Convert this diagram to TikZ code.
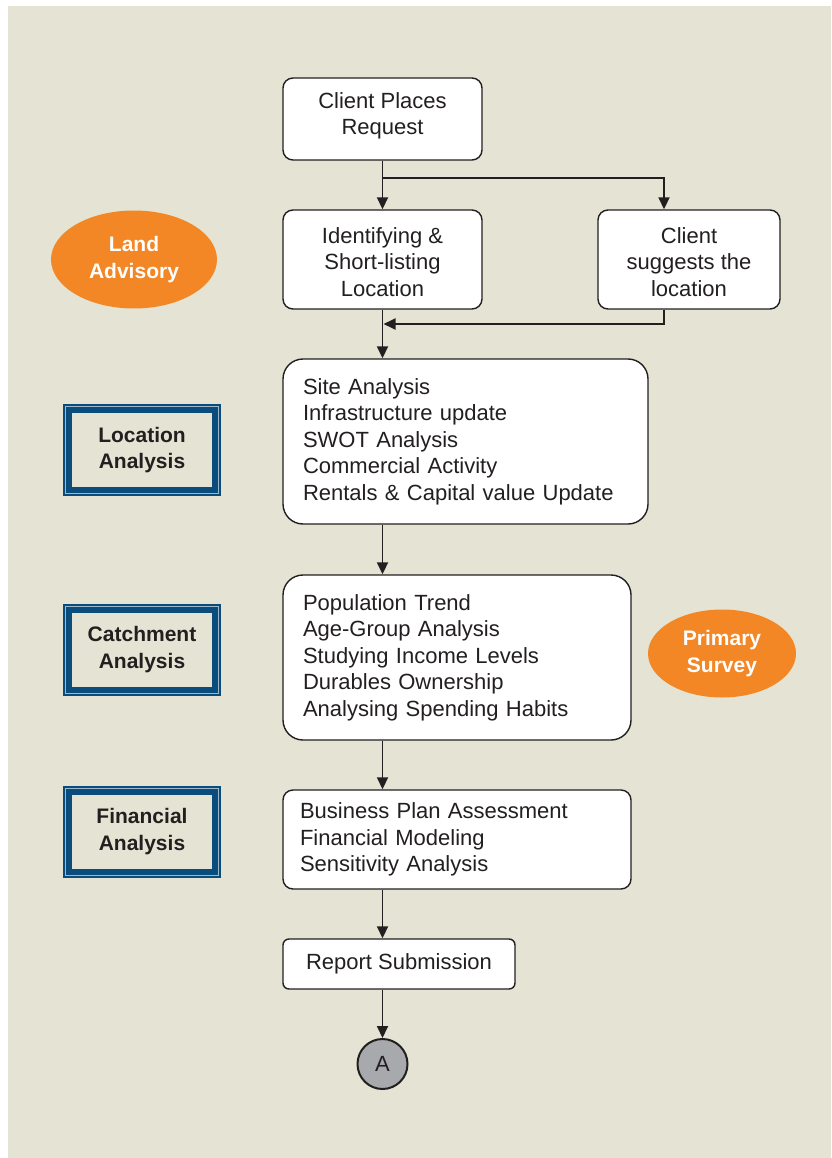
\documentclass[tikz,border=0pt]{standalone}
\usepackage{fontspec}
\setmainfont{Liberation Sans}
\usetikzlibrary{arrows.meta,shapes.geometric}
\definecolor{bg}{HTML}{E5E3D3}
\definecolor{ink}{HTML}{231F20}
\definecolor{orng}{HTML}{F38725}
\definecolor{navy}{HTML}{0A4D7C}
\definecolor{pale}{HTML}{9DB8CB}
\definecolor{circ}{HTML}{A7A9AC}
\begin{document}
\begin{tikzpicture}[x=1pt,y=-1pt,
 txt/.style={font=\fontsize{22}{26.5}\selectfont, text=ink},
 box/.style={draw=ink, line width=1.4pt, fill=white, rounded corners=10pt, txt, inner sep=0pt},
 boxtext/.style={txt, align=center, inner sep=0pt},
 arr/.style={draw=ink, line width=1.8pt, -{Triangle[length=12pt,width=11pt]}},
 ln/.style={draw=ink, line width=1.8pt},
 oval/.style={ellipse, fill=orng, inner sep=0pt, text=white, align=center, font=\bfseries\fontsize{21}{27}\selectfont},
 frame/.style={draw=navy, line width=9pt, fill=bg, minimum width=149pt, minimum height=83pt, inner sep=0pt, outer sep=0pt, align=center, text=ink, font=\bfseries\fontsize{21}{26.5}\selectfont},
 paleline/.style={draw=pale, line width=1pt},
]
\useasboundingbox (0,0) rectangle (831,1158);
\fill[bg] (8,6) rectangle (831,1158);

% main flow boxes
\node[box, minimum width=199pt, minimum height=82pt] (req) at (382.5,119) {};
\node[boxtext] (reqt) at (382.5,116) {Client Places\\Request};
\node[box, minimum width=199pt, minimum height=99pt] (ident) at (382.5,259.5) {};
\node[boxtext] (identt) at (382.5,262) {Identifying \&\\Short-listing\\Location};
\node[box, minimum width=182pt, minimum height=99pt] (sugg) at (689,259.5) {};
\node[boxtext] (suggt) at (689,262) {Client\\suggests the\\location};
\node[box, rounded corners=20pt, minimum width=365pt, minimum height=165pt, text width=325pt, inner xsep=20pt, align=left] (site) at (465.5,441.5)
 {Site Analysis\\Infrastructure update\\SWOT Analysis\\Commercial Activity\\Rentals \& Capital value Update};
\node[box, rounded corners=20pt, minimum width=348pt, minimum height=165pt, text width=308pt, inner xsep=20pt, align=left] (pop) at (457,657.5)
 {Population Trend\\Age-Group Analysis\\Studying Income Levels\\Durables Ownership\\Analysing Spending Habits};
\node[box, minimum width=348pt, minimum height=99pt, text width=314pt, inner xsep=17pt, align=left] (biz) at (457,839.5)
 {Business Plan Assessment\\Financial Modeling\\Sensitivity Analysis};
\node[box, rounded corners=6pt, minimum width=232pt, minimum height=50pt, align=center] (rep) at (399,964) {Report Submission};
\node[circle, draw=ink, line width=2pt, fill=circ, minimum size=50pt, inner sep=0pt, txt] (A) at (382.5,1064) {A};

% side labels
\node[oval, minimum width=166pt, minimum height=98pt] (land) at (134,259.5) {Land\\Advisory};
\node[oval, minimum width=148pt, minimum height=88pt] (prim) at (722,653.5) {Primary\\Survey};
\node[frame] (loc) at (142,450) {Location\\Analysis};
\node[frame] (cat) at (142,649.5) {Catchment\\Analysis};
\node[frame] (fin) at (142,831.5) {Financial\\Analysis};
\foreach \n in {loc,cat,fin}
  \draw[paleline] ([shift={(-2pt,2pt)}]\n.north west) rectangle ([shift={(2pt,-2pt)}]\n.south east);

% connectors
\coordinate (j) at (382.5,178);
\coordinate (k) at (664,178);
\coordinate (m) at (664,324);
\coordinate (n) at (383.5,324);
\draw[ln] (req.south) -- (j);
\draw[arr] (j) -- (ident.north);
\draw[arr] (j) -- (k) -- (k |- sugg.north);
\draw[arr] (m |- sugg.south) -- (m) -- (n);
\draw[arr] (ident.south) -- (ident.south |- site.north);
\draw[arr] (ident.south |- site.south) -- (ident.south |- pop.north);
\draw[arr] (ident.south |- pop.south) -- (ident.south |- biz.north);
\draw[arr] (ident.south |- biz.south) -- (ident.south |- rep.north);
\draw[arr] (ident.south |- rep.south) -- (A.north);
\end{tikzpicture}
\end{document}
